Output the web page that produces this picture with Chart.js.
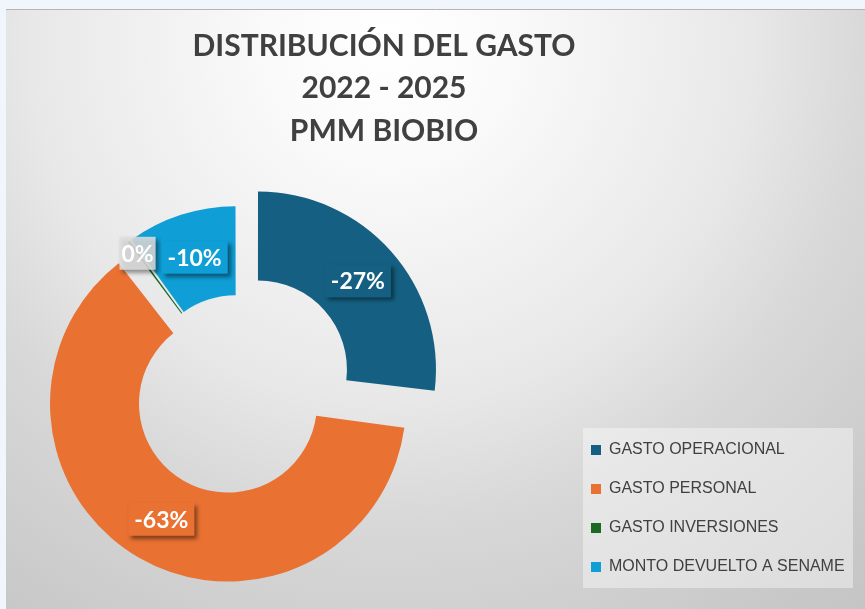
<!DOCTYPE html>
<html lang="es">
<head>
<meta charset="utf-8">
<title>Distribución del gasto 2022 - 2025 PMM Biobio</title>
<script src="https://cdn.jsdelivr.net/npm/chart.js@4.4.1/dist/chart.umd.min.js"></script>
<style>
  html, body { margin: 0; padding: 0; background: #f1f6fc; }
  #gastoChart { display: block; }
</style>
</head>
<body>
<canvas id="gastoChart" width="865" height="609"></canvas>
<script>
// ===============================
// DATOS
// ===============================

const tituloLineas = ['DISTRIBUCIÓN DEL GASTO', '2022 - 2025', 'PMM BIOBIO'];
const categorias = ['GASTO OPERACIONAL', 'GASTO PERSONAL', 'GASTO INVERSIONES', 'MONTO DEVUELTO A SENAME'];
const variacion = [-27, -63, -0.3, -10];   // % del gasto total

const colores = ['#156082', '#E97132', '#196B24', '#0F9ED5'];

// ===============================
// PORCIONES SEPARADAS
// ===============================

// Chart.js agranda el radio de las porciones con offset; se deja el anillo del mismo grosor
const dibujarArco = Chart.ArcElement.prototype.draw;
Chart.ArcElement.prototype.draw = function (ctx) {
    const mover = (this.options.offset || 0) / 4;
    const crece = mover * (1 - Math.sin(Math.min(Math.PI, this.circumference || 0)));
    this.outerRadius -= crece;
    this.innerRadius -= crece;
    dibujarArco.call(this, ctx);
    this.outerRadius += crece;
    this.innerRadius += crece;
};

// ===============================
// PLUGINS
// ===============================

// fondo degradado del gráfico y caja de la leyenda
const fondo = {
    id: 'fondo',
    beforeDraw(chart) {
        const ctx = chart.ctx;
        ctx.save();
        const g = ctx.createRadialGradient(390, 40, 0, 390, 40, 800);
        g.addColorStop(0, '#ffffff');
        g.addColorStop(0.15, '#fafafa');
        g.addColorStop(0.45, '#e8e8e8');
        g.addColorStop(0.6, '#d8d8d8');
        g.addColorStop(0.85, '#c8c8c8');
        g.addColorStop(1, '#c2c2c2');
        ctx.fillStyle = g;
        ctx.fillRect(6, 10, 859, 599);
        ctx.strokeStyle = '#b4b4b4';
        ctx.lineWidth = 1;
        ctx.beginPath();
        ctx.moveTo(6, 9.5);
        ctx.lineTo(865, 9.5);
        ctx.stroke();
        ctx.fillStyle = 'rgba(255,255,255,0.4)';
        ctx.fillRect(583, 428, 270, 160);
        ctx.restore();
    }
};

// título centrado sobre el gráfico y leyenda abajo a la derecha
const posiciones = {
    id: 'posiciones',
    afterLayout(chart) {
        const t = chart.titleBlock;
        t.left = 0;
        t.right = 768;
        t.width = 768;

        const lg = chart.legend;
        const pad = lg.options.labels.padding;
        lg.left = 591 - pad;
        lg.top = 442 - pad;
        lg.width = 280;
        lg.height = 200;
        lg.right = lg.left + lg.width;
        lg.bottom = lg.top + lg.height;
    }
};

// porcentaje de cada porción en una caja con sombra
const etiquetas = {
    id: 'etiquetas',
    afterDatasetsDraw(chart) {
        const ctx = chart.ctx;
        const meta = chart.getDatasetMeta(0);
        const total = variacion.reduce((s, v) => s + Math.abs(v), 0);

        meta.data.forEach((arc, i) => {
            const texto = Math.round(variacion[i] / total * 100) + '%';
            const pequena = Math.abs(variacion[i]) / total < 0.01;
            const mitad = (arc.startAngle + arc.endAngle) / 2;
            let dist = (arc.options.offset || 0) / 4 + (arc.innerRadius + arc.outerRadius) / 2;
            if (pequena) dist += 30;
            const x = arc.x + Math.cos(mitad) * dist;
            const y = arc.y + Math.sin(mitad) * dist;

            ctx.save();
            ctx.font = 'bold 23px Lato';
            const w = ctx.measureText(texto).width + (pequena ? 4 : 12);
            const h = 33;
            ctx.shadowColor = 'rgba(0,0,0,0.45)';
            ctx.shadowBlur = 4;
            ctx.shadowOffsetX = 3;
            ctx.shadowOffsetY = 3;
            ctx.fillStyle = pequena ? 'rgba(222,222,222,0.85)' : colores[i];
            ctx.fillRect(x - w / 2, y - h / 2, w, h);
            ctx.restore();

            ctx.save();
            ctx.font = 'bold 23px Lato';
            ctx.fillStyle = '#ffffff';
            ctx.textAlign = 'center';
            ctx.textBaseline = 'middle';
            ctx.fillText(texto, x, y + 1);
            ctx.restore();
        });
    }
};

// ===============================
// GRÁFICO
// ===============================

new Chart(document.getElementById('gastoChart'), {
    type: 'doughnut',
    data: {
        labels: categorias,
        datasets: [{
            data: variacion,
            backgroundColor: colores,
            borderWidth: 0,
            hoverOffset: 0,
            offset: [112, 72, 16, 16]
        }]
    },
    options: {
        responsive: false,
        animation: false,
        radius: 178,
        cutout: '50%',
        layout: { padding: { left: 0, right: 391, top: 0, bottom: 0 } },
        plugins: {
            title: {
                display: true,
                text: tituloLineas,
                color: '#404040',
                font: { family: 'Lato', size: 30, weight: 'bold', lineHeight: 1.417 },
                padding: { top: 25, bottom: 14.5 }
            },
            legend: {
                position: 'chartArea',
                align: 'start',
                labels: {
                    boxWidth: 10,
                    boxHeight: 10,
                    padding: 23,
                    color: '#404040',
                    font: { family: 'Liberation Sans', size: 16 }
                }
            },
            tooltip: { enabled: false }
        }
    },
    plugins: [fondo, posiciones, etiquetas]
});
</script>
</body>
</html>
